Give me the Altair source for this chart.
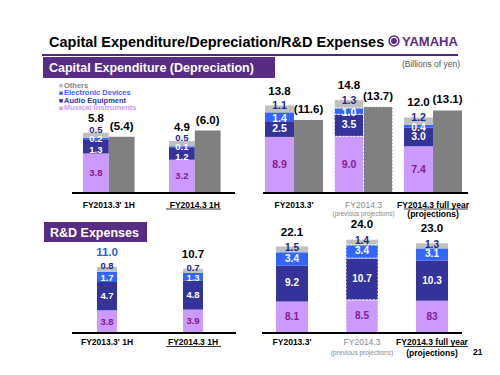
import altair as alt
import pandas as pd

FONT = "Liberation Sans"
PURPLE = "#582c83"

segments = ["Musical Instruments", "Audio Equipment", "Electronic Devices", "Others"]
seg_colors = ["#cc99ff", "#333399", "#3366ff", "#c0c0c0"]
depr_color = "#808080"
legend_order = ["Others", "Electronic Devices", "Audio Equipment", "Musical Instruments"]

# Capital expenditure, first half (with depreciation)
h_groups = ["FY2013.3' 1H", "FY2014.3 1H"]
capex_h_mi = [3.8, 3.2]
capex_h_audio = [1.3, 1.2]
capex_h_elec = [0.2, 0.1]
capex_h_other = [0.5, 0.5]
capex_h_total = ["5.8", "4.9"]
depr_h = [5.4, 6.0]

# Capital expenditure, full year (with depreciation)
y_groups = ["FY2013.3'", "FY2014.3 prev", "FY2014.3 full"]
y_line1 = ["FY2013.3'", "FY2014.3", "FY2014.3 full year"]
y_line2 = ["", "(previous projections)", "(projections)"]
capex_y_mi = [8.9, 9.0, 7.4]
capex_y_audio = [2.5, 3.5, 3.0]
capex_y_elec = [1.4, 1.0, 0.4]
capex_y_other = [1.1, 1.3, 1.2]
capex_y_total = ["13.8", "14.8", "12.0"]
depr_y = [11.6, 13.7, 13.1]

# R&D expenses, first half
rd_h_mi = [3.8, 3.9]
rd_h_audio = [4.7, 4.8]
rd_h_elec = [1.7, 1.3]
rd_h_other = [0.8, 0.7]
rd_h_total = ["11.0", "10.7"]

# R&D expenses, full year
rd_y_mi = [8.1, 8.5, 8.3]
rd_y_mi_text = ["8.1", "8.5", "83"]
rd_y_audio = [9.2, 10.7, 10.3]
rd_y_elec = [3.4, 3.4, 3.1]
rd_y_other = [1.5, 1.4, 1.3]
rd_y_total = ["22.1", "24.0", "23.0"]


def stack_frame(groups, mi, audio, elec, other, depr=None, mi_text=None):
    rows = []
    for i, g in enumerate(groups):
        for k, (s, v) in enumerate(zip(segments, [mi[i], audio[i], elec[i], other[i]])):
            lab = mi_text[i] if (k == 0 and mi_text) else f"{v:.1f}"
            rows.append({"group": g, "kind": "capex", "segment": s, "order": k, "value": v, "label": lab})
        if depr is not None:
            rows.append({"group": g, "kind": "depr", "segment": "Depreciation", "order": 0,
                         "value": depr[i], "label": ""})
    return pd.DataFrame(rows)


def totals_frame(groups, totals, depr=None):
    rows = []
    for i, g in enumerate(groups):
        rows.append({"group": g, "kind": "capex", "value": float(totals[i]), "label": totals[i]})
        if depr is not None:
            rows.append({"group": g, "kind": "depr", "value": depr[i], "label": f"({depr[i]:.1f})"})
    return pd.DataFrame(rows)


color_scale = alt.Scale(domain=segments + ["Depreciation"], range=seg_colors + [depr_color])
label_color_expr = ("datum.segment == 'Musical Instruments' ? '#80208f' : "
                    "(datum.segment == 'Others' ? '#24248f' : '#ffffff')")
PREV = "datum.group == 'FY2014.3 prev'"


def panel(groups, line1, line2, frame, totals, xrange, pin, pout, ydom, yrange,
          rule_x, lab_y, seg_size, with_offset, nudge=(0, 0, 0), total_blue="false"):
    xs = alt.Scale(domain=groups, range=xrange, paddingInner=pin, paddingOuter=pout)
    ys = alt.Scale(domain=ydom, range=yrange)
    X = alt.X("group:N", scale=xs, axis=None)
    extra = {}
    if with_offset:
        extra["xOffset"] = alt.XOffset("kind:N", scale=alt.Scale(domain=["capex", "depr"],
                                                                 paddingInner=0, paddingOuter=0))
    base = alt.Chart(frame).transform_stack(
        stack="value", groupby=["group", "kind"], as_=["y0", "y1"],
        sort=[alt.SortField("order", order="ascending")])
    bars = base.mark_bar(stroke="white", strokeWidth=1, strokeDash=[2, 1.5]).encode(
        x=X, y=alt.Y("y1:Q", scale=ys, axis=None), y2="y0:Q",
        color=alt.Color("segment:N", scale=color_scale, legend=None),
        strokeOpacity=alt.condition(PREV, alt.value(1), alt.value(0)),
        **extra)
    nudge_expr = (f"(datum.segment == 'Others' ? {nudge[0]} : "
                  f"(datum.segment == 'Electronic Devices' ? {nudge[1]} : "
                  f"(datum.segment == 'Audio Equipment' ? {nudge[2]} : 0)))")
    seglab = base.transform_filter("datum.kind == 'capex'").transform_calculate(
        mid="(datum.y0 + datum.y1) / 2 + " + nudge_expr, tc=label_color_expr
    ).mark_text(font=FONT, fontWeight="bold", fontSize=seg_size, baseline="middle").encode(
        x=X, y=alt.Y("mid:Q", scale=ys, axis=None), text="label:N",
        fill=alt.Fill("tc:N", scale=None), **extra)
    tc = alt.Chart(totals)
    tot_fill = alt.condition(total_blue, alt.value("#2f5fc8"), alt.value("#000000"))
    tot1 = tc.transform_filter("datum.kind == 'capex'").mark_text(
        font=FONT, fontWeight="bold", fontSize=11.5, baseline="middle", dy=-14).encode(
        x=X, y=alt.Y("value:Q", scale=ys, axis=None), text="label:N", fill=tot_fill, **extra)
    tot2 = tc.transform_filter("datum.kind == 'depr'").mark_text(
        font=FONT, fontWeight="bold", fontSize=11.5, baseline="middle", dy=-10).encode(
        x=X, y=alt.Y("value:Q", scale=ys, axis=None), text="label:N", fill=tot_fill, **extra)
    labs = pd.DataFrame({"group": groups, "l1": line1, "l2": line2})
    lc = alt.Chart(labs)
    l1b = lc.transform_filter("!(" + PREV + ")").mark_text(
        font=FONT, fontWeight="bold", fontSize=8.5, color="#000000").encode(
        x=X, y=alt.value(lab_y[0]), text="l1:N")
    l1g = lc.transform_filter(PREV).mark_text(
        font=FONT, fontSize=8.5, color="#8a8a8a").encode(
        x=X, y=alt.value(lab_y[0]), text="l1:N")
    l2b = lc.transform_filter("!(" + PREV + ")").mark_text(
        font=FONT, fontWeight="bold", fontSize=8.5, color="#000000").encode(
        x=X, y=alt.value(lab_y[1]), text="l2:N")
    l2g = lc.transform_filter(PREV).mark_text(
        font=FONT, fontSize=6.5, color="#8a8a8a").encode(
        x=X, y=alt.value(lab_y[1]), text="l2:N")
    rule = alt.Chart(pd.DataFrame({"v": [0]})).mark_rule(color="#000000", strokeWidth=2).encode(
        y=alt.Y("v:Q", scale=ys, axis=None), x=alt.value(rule_x[0]), x2=alt.value(rule_x[1]))
    layers = [bars, seglab, tot1] + ([tot2] if with_offset else []) + [l1b, l1g, l2b, l2g, rule]
    return alt.layer(*layers)


tl = panel(h_groups, h_groups, ["", ""],
           stack_frame(h_groups, capex_h_mi, capex_h_audio, capex_h_elec, capex_h_other, depr_h),
           totals_frame(h_groups, capex_h_total, depr_h),
           [57.8, 229.8], 0.4, 0.2, [0, 10], [185, 81], [64, 227], [196.5, 206], 9.5, True,
           nudge=(0.55, 0.0, -0.3))
tr = panel(y_groups, y_line1, y_line2,
           stack_frame(y_groups, capex_y_mi, capex_y_audio, capex_y_elec, capex_y_other, depr_y),
           totals_frame(y_groups, capex_y_total, depr_y),
           [250.05, 461], 0.165, 0.1, [0, 20], [185, 59], [255, 460], [196.5, 206], 10.5, True,
           nudge=(0.45, -0.3, 0.0))
bl = panel(h_groups, h_groups, ["", ""],
           stack_frame(h_groups, rd_h_mi, rd_h_audio, rd_h_elec, rd_h_other),
           totals_frame(h_groups, rd_h_total),
           [63.2, 220.8], 0.767, 0.3, [0, 20], [325, 205], [64, 228], [334, 344.5], 9.5, False,
           nudge=(0.5, -0.15, 0.0), total_blue="datum.group == \"FY2013.3' 1H\"")
br = panel(y_groups, y_line1, y_line2,
           stack_frame(y_groups, rd_y_mi, rd_y_audio, rd_y_elec, rd_y_other, mi_text=rd_y_mi_text),
           totals_frame(y_groups, rd_y_total),
           [254, 454], 0.543, 0.2, [0, 30], [325, 208], [254, 454], [334, 344.5], 10, False,
           nudge=(0.3, 0.0, 0.0))

one = alt.Chart(pd.DataFrame({"a": [0]}))


def rect(x, x2, y, y2, color):
    return one.mark_rect(color=color).encode(x=alt.value(x), x2=alt.value(x2),
                                             y=alt.value(y), y2=alt.value(y2))


def txt(s, x, y, size, color="#000000", weight="normal", align="left", baseline="middle", font=FONT):
    return one.mark_text(text=s, font=font, fontSize=size, color=color, fontWeight=weight,
                         align=align, baseline=baseline).encode(x=alt.value(x), y=alt.value(y))


def rule(x, x2, y, color, w):
    return one.mark_rule(color=color, strokeWidth=w).encode(
        x=alt.value(x), x2=alt.value(x2), y=alt.value(y))


deco = [
    txt("Capital Expenditure/Depreciation/R&D Expenses", 41, 38.7, 14.5, weight="bold",
        baseline="alphabetic"),
    one.mark_point(filled=True, color=PURPLE, size=130, opacity=1).encode(
        x=alt.value(386), y=alt.value(33)),
    one.mark_point(filled=False, color="#ffffff", size=50, strokeWidth=1.2, opacity=1).encode(
        x=alt.value(386), y=alt.value(33)),
    txt("YAMAHA", 394, 33.5, 13, color=PURPLE, weight="bold"),
    rule(34, 450, 47, "#4b2a7b", 2),
    rect(35, 267, 49, 70, PURPLE),
    txt("Capital Expenditure (Depreciation)", 41, 60, 12.5, color="#ffffff", weight="bold"),
    txt("(Billions of yen)", 452, 55.5, 8.5, color="#555555", align="right"),
    rect(36, 139, 214, 234, PURPLE),
    txt("R&D Expenses", 42, 224.5, 12.5, color="#ffffff", weight="bold"),
    txt("21", 465, 344, 8.5, weight="bold"),
    rule(158, 213, 201, "#000000", 0.8),
    rule(396, 460, 201, "#000000", 0.8),
    rule(158, 213, 338.5, "#000000", 0.8),
    rule(396, 460, 338.5, "#000000", 0.8),
]

legend_df = pd.DataFrame({"segment": legend_order})
ly = alt.Y("segment:N", scale=alt.Scale(type="point", domain=legend_order, range=[77.7, 100.3],
                                        padding=0), axis=None)
legend = alt.layer(
    alt.Chart(legend_df).mark_square(size=12, opacity=1).encode(
        x=alt.value(53), y=ly, color=alt.Color("segment:N", scale=color_scale, legend=None)),
    alt.Chart(legend_df).transform_calculate(
        tc="datum.segment == 'Others' ? '#808080' : (datum.segment == 'Electronic Devices' ? '#3366ff' : "
           "(datum.segment == 'Audio Equipment' ? '#333399' : '#cc99ff'))"
    ).mark_text(font=FONT, fontWeight="bold", fontSize=7.5, align="left", baseline="middle").encode(
        x=alt.value(56), y=ly, text="segment:N", fill=alt.Fill("tc:N", scale=None)),
)

chart = alt.layer(*deco, legend, tl, tr, bl, br).resolve_scale(
    x="independent", y="independent", xOffset="independent"
).properties(
    width=484, height=359, padding=0, autosize=alt.AutoSizeParams(type="none"),
    background="#ffffff"
).configure_view(strokeWidth=0)

chart.save("out.html", embed_options={"renderer": "svg", "actions": False})
